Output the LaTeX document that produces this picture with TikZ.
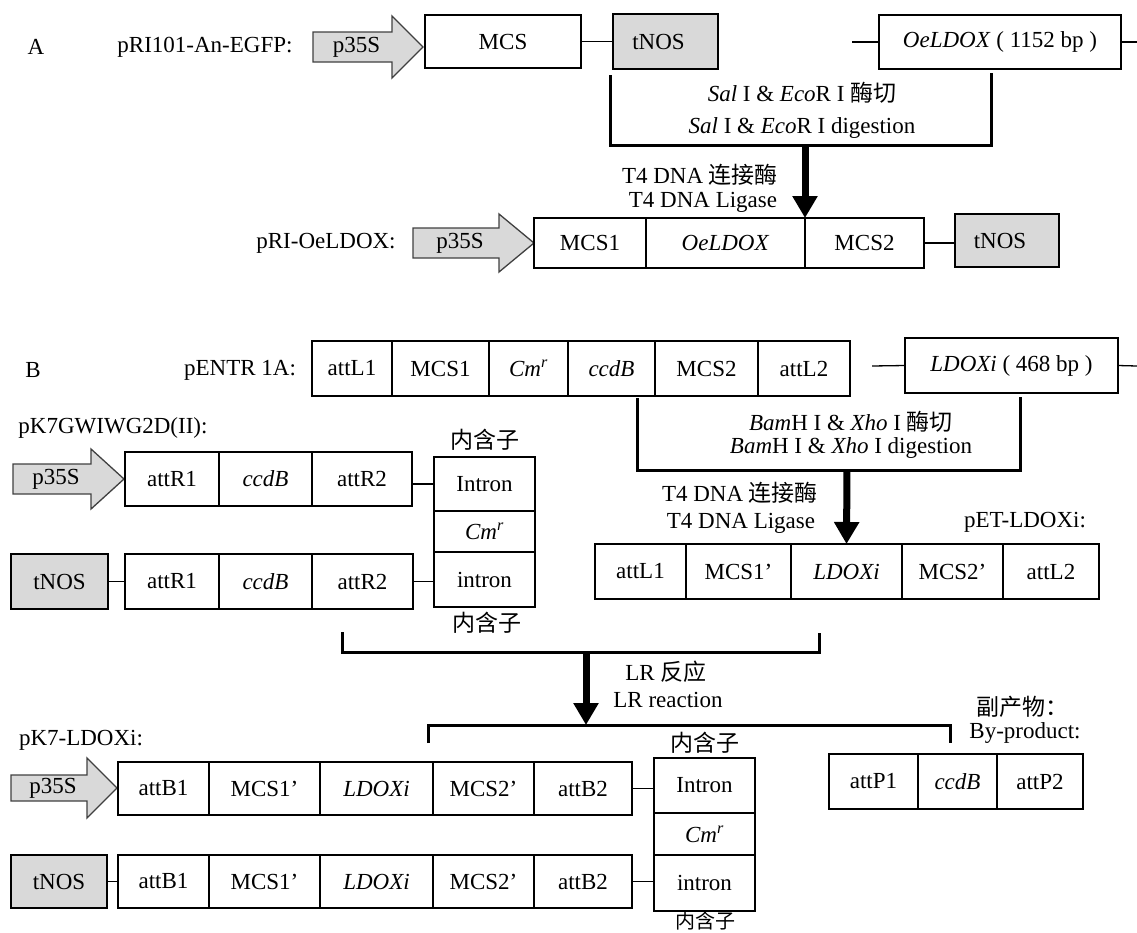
\documentclass[tikz,border=0pt]{standalone}
\usepackage{fontspec}
\setmainfont{Liberation Serif}
\newfontfamily\cjk{Noto Sans CJK SC}
\usetikzlibrary{arrows.meta}
\definecolor{boxgrey}{RGB}{217,217,217}
\definecolor{arrowline}{RGB}{64,64,64}
\tikzset{
  cell/.style={draw=black, line width=1.3pt, inner sep=0pt, outer sep=0pt, font=\fontsize{23}{27}\selectfont},
  greycell/.style={cell, fill=boxgrey},
  lbl/.style={inner sep=0pt, outer sep=0pt, font=\fontsize{23}{27}\selectfont},
  conn/.style={line width=1.3pt},
  bracket/.style={line width=3pt},
  bigarrow/.style={line width=7pt, -{Triangle[width=24pt,length=22pt]}},
  promo/.style={draw=arrowline, fill=boxgrey, line width=1.3pt, line join=miter},
}
% #1 name, #2 x1, #3 x2, #4 y1, #5 y2, #6 style, #7 text
\newcommand\cellbox[7]{\node[#6, minimum width={(#3)-(#2)}, minimum height={(#5)-(#4)}] (#1) at ({((#2)+(#3))/2},{((#4)+(#5))/2}) {#7};}
% #1 name, #2 left, #3 head base, #4 tip, #5 centre y, #6 body half, #7 head half
\newcommand\promoter[7]{%
  \draw[promo] (#2,#5-#6) -- (#3,#5-#6) -- (#3,#5-#7) -- (#4,#5) -- (#3,#5+#7) -- (#3,#5+#6) -- (#2,#5+#6) -- cycle;
  \node[lbl] (#1) at ({(#2+#3)/2+4},#5) {p35S};}
\newcommand\cmr{\textit{Cm}\textsuperscript{\textit{r}}}
\begin{document}
\begin{tikzpicture}[x=1pt,y=-1pt]
\useasboundingbox (0,0) rectangle (1137,932);

% ================= A =================
\node[lbl] (labA) at (36,47) {A};
\node[lbl] (nA1) at (205,47) {pRI101-An-EGFP:};
\promoter{pA1}{313}{392}{423}{47}{15}{31}
\cellbox{mcsA}{425}{581}{15}{68}{cell}{MCS}
\cellbox{tnosA}{613}{718}{14}{69}{greycell}{tNOS\hspace*{14pt}}
\cellbox{oeA}{879}{1121}{15}{69}{cell}{\textit{OeLDOX} ( 1152 bp )}
\draw[conn] (mcsA.east) -- (tnosA.west);
\coordinate (oeAl) at (852,42);
\coordinate (oeAr) at (1137,42);
\draw[conn] (oeAl) -- (oeA.west);
\draw[conn] (oeA.east) -- (oeAr);

\coordinate (brA1) at (610,75);
\coordinate (brA2) at (991,73);
\coordinate (brAm) at (805,145);
\draw[bracket] (brA1) |- (brA2 |- brAm) -- (brA2);
\node[lbl] (digA1) at (802,93) {\textit{Sal} I \& \textit{Eco}R I {\cjk 酶切}};
\node[lbl] (digA2) at (802,128) {\textit{Sal} I \& \textit{Eco}R I digestion};
\node[lbl] (ligA1) at (700,175) {T4 DNA {\cjk 连接酶}};
\node[lbl] (ligA2) at (703,202) {T4 DNA Ligase};

\node[lbl] (nA2) at (326,243) {pRI-OeLDOX:};
\promoter{pA2}{413}{499}{534}{243}{15}{29}
\cellbox{mcs1B}{534}{646}{218}{268}{cell}{MCS1}
\cellbox{oeB}{646}{805}{218}{268}{cell}{\textit{OeLDOX}}
\cellbox{mcs2B}{805}{924}{218}{268}{cell}{MCS2}
\cellbox{tnosB}{955}{1059}{214}{267}{greycell}{tNOS\hspace*{14pt}}
\draw[conn] (mcs2B.east) -- (mcs2B.east -| tnosB.west);
\draw[bigarrow] (brAm) -- (oeB.north east);

% ================= B =================
\node[lbl] (labB) at (33,370) {B};
\node[lbl] (nB1) at (240,370) {pENTR 1A:};
\cellbox{e1}{312}{392}{341}{396}{cell}{attL1}
\cellbox{e2}{392}{489}{341}{396}{cell}{MCS1}
\cellbox{e3}{489}{568}{341}{396}{cell}{\cmr}
\cellbox{e4}{568}{655}{341}{396}{cell}{\textit{ccdB}}
\cellbox{e5}{655}{758}{341}{396}{cell}{MCS2}
\cellbox{e6}{758}{850}{341}{396}{cell}{attL2}
\cellbox{ldB}{905}{1118}{338}{393}{cell}{\textit{LDOXi} ( 468 bp )}
\coordinate (ldBl) at (872,366);
\coordinate (ldBr) at (1137,366);
\draw[conn] (ldBl) -- (ldB.west);
\draw[conn] (ldB.east) -- (ldBr);

\coordinate (brB1) at (637,398);
\coordinate (brB2) at (1020,397);
\coordinate (brBm) at (847,470);
\draw[bracket] (brB1) |- (brB2 |- brBm) -- (brB2);
\node[lbl] (digB1) at (851,422) {\textit{Bam}H I \& \textit{Xho} I {\cjk 酶切}};
\node[lbl] (digB2) at (851,448) {\textit{Bam}H I \& \textit{Xho} I digestion};
\node[lbl] (ligB1) at (740,493) {T4 DNA {\cjk 连接酶}};
\node[lbl] (ligB2) at (741,523) {T4 DNA Ligase};
\node[lbl] (nPET) at (1025,522) {pET-LDOXi:};

\cellbox{t1}{595}{686}{544}{599}{cell}{attL1}
\cellbox{t2}{686}{791}{544}{599}{cell}{MCS1’}
\cellbox{t3}{791}{902}{544}{599}{cell}{\textit{LDOXi}}
\cellbox{t4}{902}{1003}{544}{599}{cell}{MCS2’}
\cellbox{t5}{1003}{1099}{544}{599}{cell}{attL2}
\draw[bigarrow] (brBm) -- (t3.north);

% pK7GWIWG2D(II)
\node[lbl] (nGW) at (113,428) {pK7GWIWG2D(II):};
\promoter{pG1}{13}{91}{124}{479}{15}{30}
\cellbox{g1}{125}{219}{452}{506}{cell}{attR1}
\cellbox{g2}{219}{312}{452}{506}{cell}{\textit{ccdB}}
\cellbox{g3}{312}{412}{452}{506}{cell}{attR2}
\cellbox{tnosG}{11}{108}{554}{609}{greycell}{tNOS}
\cellbox{h1}{125}{219}{554}{609}{cell}{attR1}
\cellbox{h2}{219}{312}{554}{609}{cell}{\textit{ccdB}}
\cellbox{h3}{312}{413}{554}{609}{cell}{attR2}
\cellbox{iA1}{434}{535}{457}{511}{cell}{Intron}
\cellbox{iA2}{434}{535}{511}{552}{cell}{\cmr}
\cellbox{iA3}{434}{535}{552}{607}{cell}{intron}
\node[lbl] (inA1) at (485,440) {\cjk 内含子};
\node[lbl] (inA2) at (487,623) {\cjk 内含子};
\draw[conn] (g3.east |- iA1.west) -- (iA1.west);
\draw[conn] (tnosG.east) -- (h1.west);
\draw[conn] (h3.east) -- (h3.east -| iA3.west);

% LR reaction
\coordinate (lr1) at (342,632);
\coordinate (lr2) at (819,633);
\coordinate (lrm) at (586,652);
\draw[bracket] (lr1) |- (lr2 |- lrm) -- (lr2);
\node[lbl] (lrt1) at (666,672) {LR {\cjk 反应}};
\node[lbl] (lrt2) at (668,700) {LR reaction};
\coordinate (bb1) at (428,743);
\coordinate (bb2) at (950,743);
\coordinate (bbm) at (586,725);
\draw[bracket] (bb1) |- (bb2 |- bbm) -- (bb2);
\draw[bigarrow] (lrm) -- (bbm);

% pK7-LDOXi
\node[lbl] (nK7) at (81,740) {pK7-LDOXi:};
\promoter{pK1}{11}{87}{117}{788}{13}{30}
\cellbox{k1}{118}{209}{762}{815}{cell}{attB1}
\cellbox{k2}{209}{320}{762}{815}{cell}{MCS1’}
\cellbox{k3}{320}{433}{762}{815}{cell}{\textit{LDOXi}}
\cellbox{k4}{433}{534}{762}{815}{cell}{MCS2’}
\cellbox{k5}{534}{632}{762}{815}{cell}{attB2}
\cellbox{tnosK}{11}{107}{855}{908}{greycell}{tNOS}
\cellbox{m1}{118}{209}{855}{908}{cell}{attB1}
\cellbox{m2}{209}{320}{855}{908}{cell}{MCS1’}
\cellbox{m3}{320}{433}{855}{908}{cell}{\textit{LDOXi}}
\cellbox{m4}{433}{534}{855}{908}{cell}{MCS2’}
\cellbox{m5}{534}{632}{855}{908}{cell}{attB2}
\cellbox{iB1}{654}{755}{758}{813}{cell}{Intron}
\cellbox{iB2}{654}{755}{813}{855}{cell}{\cmr}
\cellbox{iB3}{654}{755}{855}{911}{cell}{intron}
\node[lbl] (inB1) at (705,743) {\cjk 内含子};
\node[lbl, anchor=north] (inB2) at (705,912) {\cjk\fontsize{20}{20}\selectfont 内含子};
\draw[conn] (k5.east) -- (k5.east -| iB1.west);
\draw[conn] (tnosK.east) -- (m1.west);
\draw[conn] (m5.east) -- (m5.east -| iB3.west);

% by-product
\node[lbl] (bp1) at (1022,707) {\cjk 副产物：};
\node[lbl] (bp2) at (1025,733) {By-product:};
\cellbox{p1}{829}{918}{754}{809}{cell}{attP1}
\cellbox{p2}{918}{997}{754}{809}{cell}{\textit{ccdB}}
\cellbox{p3}{997}{1083}{754}{809}{cell}{attP2}
\end{tikzpicture}
\end{document}
